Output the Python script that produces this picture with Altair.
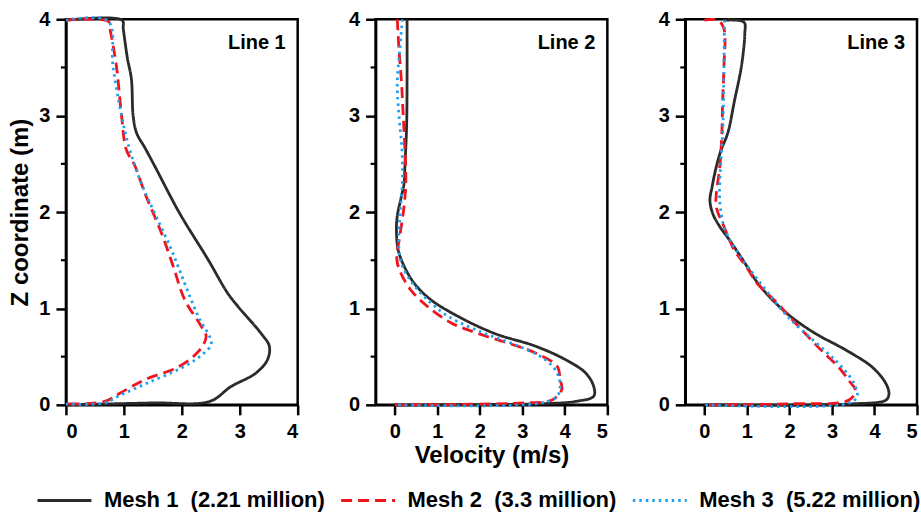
import altair as alt
import pandas as pd

FONT = "Liberation Sans"

mesh_names = ["Mesh 1\u00a0\u00a0(2.21 million)", "Mesh 2\u00a0\u00a0(3.3 million)", "Mesh 3\u00a0\u00a0(5.22 million)"]
mesh_colors = ["#2b2b2b", "#f0141e", "#1f9fef"]
mesh_dashes = [[1, 0], [11, 6], [2.5, 4]]
panel_titles = ["Line 1", "Line 2", "Line 3"]

# ---- Line 1 ----
l1_m1_v = [0.0, 0.97, 0.99, 1.06, 1.13, 1.16, 1.22, 1.36, 1.53, 1.96, 2.45, 2.79, 2.97, 3.37, 3.51, 3.48, 3.28, 2.85, 2.48, 1.5, 0.0]
l1_m1_z = [3.99, 3.99, 3.9, 3.6, 3.38, 3.0, 2.82, 2.67, 2.48, 1.99, 1.51, 1.16, 1.02, 0.74, 0.61, 0.47, 0.33, 0.19, 0.035, 0.02, 0.0]
l1_m2_v = [0.0, 0.73, 0.76, 0.87, 0.96, 1.04, 1.19, 1.36, 1.65, 1.85, 2.05, 2.34, 2.42, 2.31, 1.96, 1.36, 0.93, 0.67, 0.0]
l1_m2_z = [3.99, 3.98, 3.9, 3.52, 3.0, 2.65, 2.48, 2.2, 1.78, 1.44, 1.09, 0.81, 0.71, 0.57, 0.40, 0.26, 0.12, 0.035, 0.01]
l1_m3_v = [0.0, 0.73, 0.81, 0.96, 1.10, 1.30, 1.53, 1.82, 2.05, 2.28, 2.51, 2.39, 2.05, 1.42, 0.90, 0.67, 0.0]
l1_m3_z = [3.99, 3.98, 3.52, 3.0, 2.65, 2.3, 1.99, 1.61, 1.26, 0.92, 0.64, 0.54, 0.40, 0.23, 0.09, 0.02, 0.01]

# ---- Line 2 ----
l2_m1_v = [0.29, 0.29, 0.28, 0.24, 0.22, 0.14, 0.06, 0.04, 0.08, 0.22, 0.46, 0.85, 1.48, 2.35, 3.30, 4.01, 4.49, 4.68, 4.68, 4.25, 3.46, 0.0]
l2_m1_z = [4.0, 3.36, 2.9, 2.48, 2.3, 2.13, 1.96, 1.82, 1.61, 1.44, 1.26, 1.09, 0.92, 0.74, 0.61, 0.47, 0.33, 0.19, 0.09, 0.035, 0.012, 0.0]
l2_m2_v = [0.06, 0.10, 0.16, 0.20, 0.24, 0.26, 0.22, 0.13, 0.05, 0.14, 0.38, 0.77, 1.33, 1.96, 2.67, 3.30, 3.82, 3.89, 3.93, 3.70, 3.06, 0.0]
l2_m2_z = [4.0, 3.69, 3.34, 3.0, 2.65, 2.3, 2.06, 1.78, 1.51, 1.37, 1.19, 1.02, 0.85, 0.74, 0.64, 0.54, 0.40, 0.26, 0.16, 0.05, 0.02, 0.0]
l2_m3_v = [0.18, 0.12, 0.06, 0.10, 0.17, 0.18, 0.12, 0.10, 0.18, 0.42, 0.77, 1.25, 2.12, 2.91, 3.54, 3.82, 3.89, 3.82, 3.46, 0.0]
l2_m3_z = [4.0, 3.69, 3.34, 3.0, 2.65, 2.3, 1.96, 1.61, 1.44, 1.26, 1.09, 0.92, 0.74, 0.61, 0.47, 0.33, 0.19, 0.09, 0.02, 0.0]

# ---- Line 3 ----
l3_m1_v = [0.45, 0.93, 0.95, 0.87, 0.71, 0.55, 0.39, 0.28, 0.18, 0.13, 0.20, 0.36, 0.59, 0.91, 1.26, 1.62, 2.05, 2.61, 3.32, 3.95, 4.27, 4.34, 4.27, 3.48, 0.0]
l3_m1_z = [3.99, 3.97, 3.85, 3.51, 3.16, 2.82, 2.64, 2.47, 2.26, 2.12, 1.98, 1.85, 1.71, 1.50, 1.26, 1.08, 0.91, 0.74, 0.57, 0.39, 0.22, 0.11, 0.05, 0.01, 0.0]
l3_m2_v = [0.0, 0.32, 0.46, 0.46, 0.43, 0.41, 0.36, 0.28, 0.28, 0.47, 0.71, 0.99, 1.26, 1.66, 2.01, 2.37, 2.76, 3.16, 3.40, 3.55, 3.40, 2.0, 0.0]
l3_m2_z = [3.99, 3.99, 3.9, 3.51, 3.16, 2.81, 2.46, 2.19, 2.05, 1.84, 1.6, 1.43, 1.25, 1.08, 0.91, 0.74, 0.56, 0.39, 0.25, 0.15, 0.05, 0.01, 0.0]
l3_m3_v = [0.47, 0.46, 0.43, 0.38, 0.36, 0.47, 0.75, 1.34, 1.97, 2.84, 3.24, 3.52, 3.59, 3.32, 0.0]
l3_m3_z = [3.99, 3.51, 2.81, 2.47, 2.12, 1.84, 1.6, 1.25, 0.91, 0.56, 0.39, 0.22, 0.08, 0.01, 0.0]

y_ticks = [0, 1, 2, 3, 4]
y_minor = [0.5, 1.5, 2.5, 3.5]
x_ticks_1 = [0, 1, 2, 3, 4]
x_ticks_23 = [0, 1, 2, 3, 4, 5]
x_domain_1 = [0, 4]
x_domain_23 = [-0.45, 5]

panels_data = [
    [(l1_m1_v, l1_m1_z), (l1_m2_v, l1_m2_z), (l1_m3_v, l1_m3_z)],
    [(l2_m1_v, l2_m1_z), (l2_m2_v, l2_m2_z), (l2_m3_v, l2_m3_z)],
    [(l3_m1_v, l3_m1_z), (l3_m2_v, l3_m2_z), (l3_m3_v, l3_m3_z)],
]

W, H = 232, 386

color_scale = alt.Scale(domain=mesh_names, range=mesh_colors)
dash_scale = alt.Scale(domain=mesh_names, range=mesh_dashes)
legend = alt.Legend(
    title=None, orient="none", legendX=-30, legendY=453, direction="horizontal",
    symbolType="stroke", symbolSize=2916, symbolStrokeWidth=3,
    labelFont=FONT, labelFontSize=22, labelFontWeight="bold", labelColor="black",
    labelOffset=11, columnPadding=9, labelLimit=400, padding=0,
)


def make_panel(idx):
    rows = []
    for m, (vs, zs) in enumerate(panels_data[idx]):
        for k, (v, z) in enumerate(zip(vs, zs)):
            rows.append({"mesh": mesh_names[m], "v": v, "z": z, "i": k})
    df = pd.DataFrame(rows)
    xdom = x_domain_1 if idx == 0 else x_domain_23
    xt = x_ticks_1 if idx == 0 else x_ticks_23
    xaxis = alt.Axis(values=xt, title="Velocity (m/s)" if idx == 1 else None, titlePadding=2, labelPadding=7)
    yaxis = alt.Axis(values=y_ticks, title="Z coordinate (m)" if idx == 0 else None, titlePadding=6)
    yscale = alt.Scale(domain=[0, 4], nice=False)
    lines = alt.Chart(df).mark_line(strokeWidth=2.8, interpolate="catmull-rom").encode(
        x=alt.X("v:Q", scale=alt.Scale(domain=xdom, nice=False, zero=False), axis=xaxis),
        y=alt.Y("z:Q", scale=yscale, axis=yaxis),
        color=alt.Color("mesh:N", scale=color_scale, legend=legend),
        strokeDash=alt.StrokeDash("mesh:N", scale=dash_scale, legend=legend),
        detail="mesh:N",
        order="i:Q",
    )
    minor = alt.Chart(pd.DataFrame({"z": y_minor})).mark_rule(color="black", strokeWidth=2.2).encode(
        y=alt.Y("z:Q", scale=yscale, axis=yaxis),
        x=alt.value(-5), x2=alt.value(0),
    )
    label = alt.Chart(pd.DataFrame({"t": [panel_titles[idx]]})).mark_text(
        align="right", baseline="middle", font=FONT, fontSize=20, fontWeight="bold", color="black"
    ).encode(text="t:N", x=alt.value(W - 12), y=alt.value(24))
    return alt.layer(lines, minor, label).properties(width=W, height=H)


chart = alt.hconcat(make_panel(0), make_panel(1), make_panel(2), spacing=46).properties(
    padding={"left": 7, "top": 7, "right": 0, "bottom": 0}
).configure_view(
    stroke="black", strokeWidth=2.5
).configure_axis(
    grid=False, domainColor="black", domainWidth=2.5, tickColor="black", tickWidth=2.5, tickSize=10,
    labelFont=FONT, labelFontSize=20, labelFontWeight="bold", labelColor="black", labelPadding=4,
    titleFont=FONT, titleFontSize=24, titleFontWeight="bold", titleColor="black",
).configure_axisY(labelPadding=6)

chart.save("out.html", embed_options={"renderer": "svg", "actions": False})
